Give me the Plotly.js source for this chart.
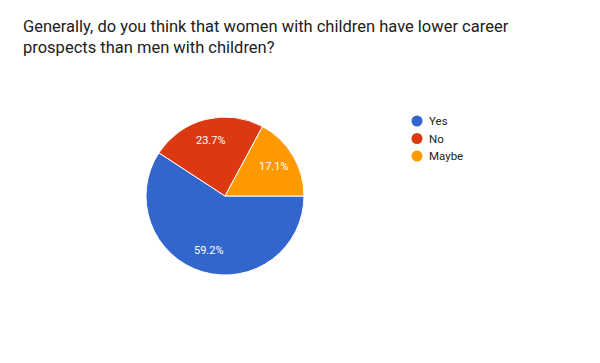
<!DOCTYPE html>
<html>
<head>
<meta charset="utf-8">
<script src="https://cdn.plot.ly/plotly-3.0.1.min.js"></script>
<style>html,body{margin:0;padding:0;background:#fff;}#chart{width:600px;height:363px;}</style>
</head>
<body>
<div id="chart"></div>
<script>
const categories = ["Yes", "No", "Maybe"];
const counts = [45, 18, 13];
const colors = ["#3366cc", "#dc3912", "#ff9900"];
const titleText = "Generally, do you think that women with children have lower career<br>prospects than men with children?";

const W = 600, H = 363;
const cx = 225, cy = 196, r = 79;
const FONT = "Roboto, Arial, sans-serif";

const traces = [{
  type: "pie",
  labels: categories,
  values: counts,
  sort: false,
  direction: "clockwise",
  rotation: 90,
  marker: {colors: colors, line: {color: "#ffffff", width: 1}},
  textinfo: "none",
  showlegend: false,
  hoverinfo: "label+percent",
  domain: {x: [(cx - r) / W, (cx + r) / W], y: [1 - (cy + r) / H, 1 - (cy - r) / H]}
}];

// slice labels placed along each slice's mid-angle (derived from the data)
const total = counts.reduce((a, b) => a + b, 0);
const annotations = [];
let start = 90; // degrees clockwise from 12 o'clock
counts.forEach((v, i) => {
  const span = v / total * 360;
  const mid = (start + span / 2) * Math.PI / 180;
  start += span;
  const rr = 0.72 * r;
  const px = cx + rr * Math.sin(mid);
  const py = cy - rr * Math.cos(mid);
  annotations.push({
    xref: "paper", yref: "paper", x: px / W, y: 1 - py / H,
    xanchor: "center", yanchor: "middle", showarrow: false,
    text: (v / total * 100).toFixed(1) + "%",
    font: {family: FONT, size: 11, color: "#ffffff"}
  });
});

// legend (circle swatches + labels)
const shapes = [];
const legX = 417, legY0 = 121, legStep = 17.5, dotR = 5.5;
categories.forEach((c, i) => {
  const y = legY0 + i * legStep;
  shapes.push({
    type: "circle", xref: "paper", yref: "paper",
    x0: (legX - dotR) / W, x1: (legX + dotR) / W,
    y0: 1 - (y + dotR) / H, y1: 1 - (y - dotR) / H,
    fillcolor: colors[i], line: {width: 0}
  });
  annotations.push({
    xref: "paper", yref: "paper", x: (legX + 10) / W, y: 1 - y / H,
    xanchor: "left", yanchor: "middle", showarrow: false,
    text: c, font: {family: FONT, size: 11.5, color: "#222222"}
  });
});

const layout = {
  width: W, height: H,
  margin: {l: 0, r: 0, t: 0, b: 0},
  paper_bgcolor: "#ffffff", plot_bgcolor: "#ffffff",
  title: {
    text: titleText,
    xref: "paper", yref: "paper",
    x: 23 / W, xanchor: "left",
    y: 1 - 32 / H, yanchor: "middle",
    font: {family: FONT, size: 16.5, color: "#212121"}
  },
  showlegend: false,
  annotations: annotations,
  shapes: shapes
};
Plotly.newPlot("chart", traces, layout, {staticPlot: true, displayModeBar: false});
</script>
</body>
</html>
